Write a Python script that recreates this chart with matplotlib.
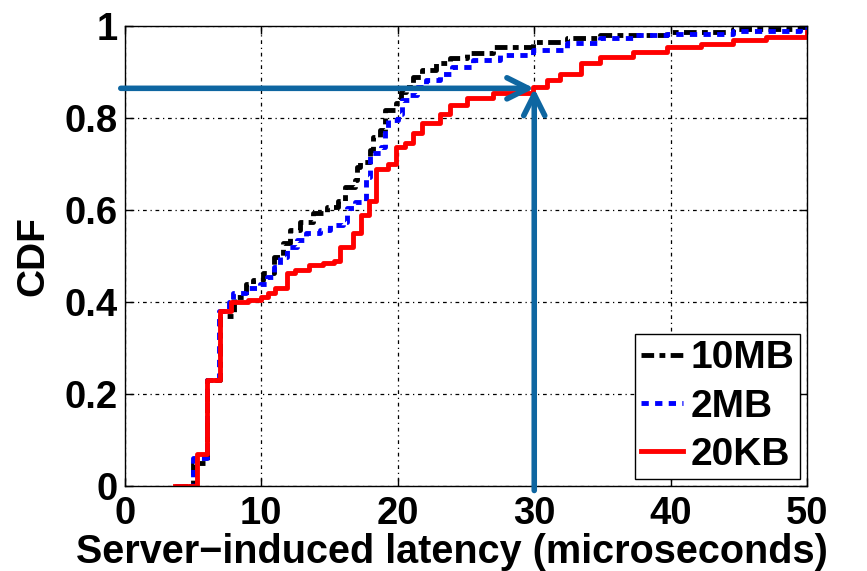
import numpy as np
import matplotlib
matplotlib.use("Agg")
import matplotlib.pyplot as plt

# data (step CDFs, value reached at each x)
x_10mb = [3.7, 5.0, 6.0, 7.0, 8.0, 8.9, 9.4, 10.1, 10.9, 11.6, 12.1, 12.8, 13.8, 14.8, 15.6,
          16.1, 16.9, 17.0, 17.2, 18.0, 18.2, 18.7, 19.1, 19.9, 20.2, 20.6, 21.1, 21.8, 22.8,
          23.8, 25.1, 27.0, 29.9, 32.4, 34.8, 39.7, 44.6, 49.5, 50.0]
y_10mb = [0.0, 0.05, 0.23, 0.37, 0.41, 0.44, 0.448, 0.463, 0.498, 0.528, 0.557, 0.574, 0.593,
          0.607, 0.62, 0.65, 0.665, 0.693, 0.704, 0.73, 0.759, 0.774, 0.817, 0.833, 0.857,
          0.867, 0.889, 0.904, 0.92, 0.93, 0.941, 0.954, 0.965, 0.974, 0.98, 0.987, 0.995,
          0.998, 0.998]

x_2mb = [3.7, 5.0, 6.0, 6.9, 7.6, 7.9, 8.9, 9.9, 10.4, 10.9, 11.4, 11.9, 12.6, 13.3, 14.3,
         15.0, 16.0, 16.3, 16.9, 17.7, 18.0, 18.8, 19.1, 19.3, 20.0, 20.3, 20.9, 21.4, 22.1,
         23.1, 24.0, 25.5, 27.5, 29.9, 32.4, 34.8, 37.2, 39.7, 44.6, 49.5, 50.0]
y_2mb = [0.0, 0.06, 0.23, 0.38, 0.40, 0.42, 0.43, 0.44, 0.455, 0.477, 0.498, 0.52, 0.535,
         0.55, 0.557, 0.567, 0.574, 0.604, 0.617, 0.672, 0.724, 0.737, 0.774, 0.796, 0.81,
         0.839, 0.85, 0.867, 0.883, 0.897, 0.911, 0.926, 0.937, 0.948, 0.963, 0.974, 0.98,
         0.984, 0.99, 0.998, 0.998]

x_20kb = [3.7, 5.3, 6.0, 7.0, 7.8, 9.0, 10.0, 10.5, 11.0, 11.9, 12.5, 13.5, 14.5, 15.3, 15.8,
          16.7, 17.3, 17.9, 18.4, 19.3, 19.9, 20.5, 21.1, 21.8, 23.1, 23.8, 25.1, 27.0, 29.9,
          30.9, 31.9, 33.4, 34.8, 37.2, 39.7, 42.2, 44.6, 47.0, 50.0]
y_20kb = [0.0, 0.07, 0.23, 0.38, 0.40, 0.405, 0.41, 0.42, 0.43, 0.463, 0.47, 0.48, 0.485,
          0.49, 0.52, 0.55, 0.59, 0.62, 0.69, 0.70, 0.737, 0.745, 0.767, 0.789, 0.81, 0.828,
          0.843, 0.854, 0.867, 0.883, 0.897, 0.919, 0.933, 0.944, 0.954, 0.962, 0.97, 0.977,
          0.987]

mark_x = 30
mark_y = 0.865

plt.rcParams['font.family'] = ['Liberation Sans', 'DejaVu Sans']
plt.rcParams['font.weight'] = 'bold'

fig = plt.figure(figsize=(8.67, 5.71), dpi=100)
ax = fig.add_axes([0.144, 0.149, 0.787, 0.805])

ax.step(x_10mb, y_10mb, where='post', color='black', lw=3.5,
        dashes=(2.6, 1.1, 1.2, 1.1), label='10MB')
ax.step(x_2mb, y_2mb, where='post', color='blue', lw=3.5,
        dashes=(1.5, 1.3), label='2MB')
ax.step(x_20kb, y_20kb, where='post', color='red', lw=3.5, label='20KB')

arrow_col = '#0e66a1'
ax.annotate('', xy=(mark_x, mark_y), xytext=(-0.3, mark_y),
            arrowprops=dict(arrowstyle='->', lw=4, color=arrow_col,
                            mutation_scale=38, shrinkA=0, shrinkB=0),
            annotation_clip=False)
ax.annotate('', xy=(mark_x, mark_y), xytext=(mark_x, -0.01),
            arrowprops=dict(arrowstyle='->', lw=4, color=arrow_col,
                            mutation_scale=38, shrinkA=0, shrinkB=0),
            annotation_clip=False)

ax.set_xlim(0, 50)
ax.set_ylim(0, 1)
ax.set_xticks([0, 10, 20, 30, 40, 50])
ax.set_yticks([0, 0.2, 0.4, 0.6, 0.8, 1])
ax.set_yticklabels(['0', '0.2', '0.4', '0.6', '0.8', '1'])
ax.tick_params(direction='in', length=6, width=1, labelsize=27.5, top=True, right=True)
ax.tick_params(axis='x', pad=7)
ax.tick_params(axis='y', pad=5)
ax.grid(True, linestyle=(0, (1, 3, 3, 3)), color='black', lw=0.9)
for s in ax.spines.values():
    s.set_linewidth(1)

ax.set_xlabel('Server\u2212induced latency (microseconds)', fontsize=28.5, fontweight='bold')
ax.xaxis.set_label_coords(0.479, -0.103)
ax.set_ylabel('CDF', fontsize=28, fontweight='bold')
ax.yaxis.set_label_coords(-0.108, 0.5)

leg = ax.legend(loc='lower right', fontsize=28, handlelength=1.1, handletextpad=0.18,
                borderpad=0.15, labelspacing=0.32, fancybox=False, framealpha=1,
                edgecolor='black', borderaxespad=0.18)
leg.get_frame().set_linewidth(1)

fig.savefig('out.png', dpi=100)
